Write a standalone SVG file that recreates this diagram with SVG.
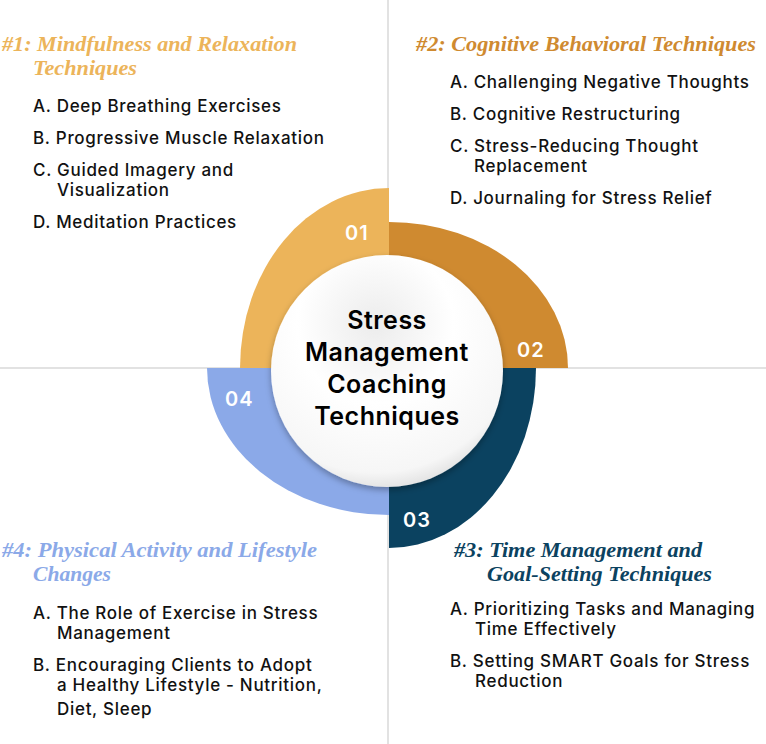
<svg xmlns="http://www.w3.org/2000/svg" width="766" height="744" viewBox="0 0 766 744">
<defs>
<style>
.h{font-family:"Liberation Serif",serif;font-style:italic;font-weight:bold;font-size:21px}
.t{font-family:Inter,"Liberation Sans",sans-serif;font-weight:500;font-size:17px;letter-spacing:0.7px;fill:#111}
.n{font-family:Inter,"Liberation Sans",sans-serif;font-weight:600;font-size:20px;letter-spacing:1px;fill:#fff}
.c{font-family:Inter,"Liberation Sans",sans-serif;font-weight:600;font-size:25px;letter-spacing:0.5px;fill:#000;text-anchor:middle}
</style>
<radialGradient id="g" cx="0.45" cy="0.3" r="0.75">
<stop offset="0" stop-color="#ececec"/><stop offset="0.45" stop-color="#ffffff"/><stop offset="0.85" stop-color="#f6f6f6"/><stop offset="1" stop-color="#d8d8d8"/>
</radialGradient>
<filter id="s" x="-20%" y="-20%" width="140%" height="140%"><feDropShadow dx="0" dy="3" stdDeviation="3" flood-opacity="0.3"/></filter>
</defs>
<rect width="766" height="744" fill="#fff"/>
<g id="connectors" stroke="#e2e2e2" stroke-width="2">
<line x1="388" y1="0" x2="388" y2="744"/>
<line x1="0" y1="368" x2="766" y2="368"/>
</g>
<g id="segment1"><path d="M240,368 A149,180 0 0 1 389,188 L389,368 Z" fill="#ECB45A"/><text class="n" x="345" y="240">01</text></g>
<g id="segment2"><path d="M389,222 A179,146 0 0 1 568,368 L389,368 Z" fill="#CF8A30"/><text class="n" x="517" y="357">02</text></g>
<g id="segment3"><path d="M536,368 A147,180 0 0 1 389,548 L389,368 Z" fill="#0B4260"/><text class="n" x="403" y="527">03</text></g>
<g id="segment4"><path d="M389,515 A182,147 0 0 1 207,368 L389,368 Z" fill="#8BA9E8"/><text class="n" x="225" y="406">04</text></g>
<g id="center">
<circle cx="387" cy="371" r="116" fill="url(#g)" filter="url(#s)"/>
<text class="c" x="387" y="329">Stress</text>
<text class="c" x="387" y="361">Management</text>
<text class="c" x="387" y="393">Coaching</text>
<text class="c" x="387" y="425">Techniques</text>
</g>
<g id="q1">
<text class="h" x="2" y="51" fill="#ECB45A" textLength="295" lengthAdjust="spacingAndGlyphs">#1: Mindfulness and Relaxation</text>
<text class="h" x="33" y="75" fill="#ECB45A" textLength="104" lengthAdjust="spacingAndGlyphs">Techniques</text>
<text class="t" x="33" y="112">A. Deep Breathing Exercises</text>
<text class="t" x="33" y="144">B. Progressive Muscle Relaxation</text>
<text class="t" x="33" y="176">C. Guided Imagery and</text>
<text class="t" x="57" y="196">Visualization</text>
<text class="t" x="33" y="228">D. Meditation Practices</text>
</g>
<g id="q2">
<text class="h" x="416" y="51" fill="#CF8A30" textLength="340" lengthAdjust="spacingAndGlyphs">#2: Cognitive Behavioral Techniques</text>
<text class="t" x="450" y="88">A. Challenging Negative Thoughts</text>
<text class="t" x="450" y="120">B. Cognitive Restructuring</text>
<text class="t" x="450" y="152">C. Stress-Reducing Thought</text>
<text class="t" x="474" y="172">Replacement</text>
<text class="t" x="450" y="204">D. Journaling for Stress Relief</text>
</g>
<g id="q3">
<text class="h" x="454" y="557" fill="#0B4260" textLength="248" lengthAdjust="spacingAndGlyphs">#3: Time Management and</text>
<text class="h" x="487" y="581" fill="#0B4260" textLength="225" lengthAdjust="spacingAndGlyphs">Goal-Setting Techniques</text>
<text class="t" x="450" y="615">A. Prioritizing Tasks and Managing</text>
<text class="t" x="475" y="635">Time Effectively</text>
<text class="t" x="450" y="667">B. Setting SMART Goals for Stress</text>
<text class="t" x="475" y="687">Reduction</text>
</g>
<g id="q4">
<text class="h" x="2" y="557" fill="#8BA9E8" textLength="315" lengthAdjust="spacingAndGlyphs">#4: Physical Activity and Lifestyle</text>
<text class="h" x="33" y="581" fill="#8BA9E8" textLength="78" lengthAdjust="spacingAndGlyphs">Changes</text>
<text class="t" x="33" y="619">A. The Role of Exercise in Stress</text>
<text class="t" x="57" y="639">Management</text>
<text class="t" x="33" y="671">B. Encouraging Clients to Adopt</text>
<text class="t" x="57" y="691">a Healthy Lifestyle - Nutrition,</text>
<text class="t" x="57" y="715">Diet, Sleep</text>
</g>
</svg>
